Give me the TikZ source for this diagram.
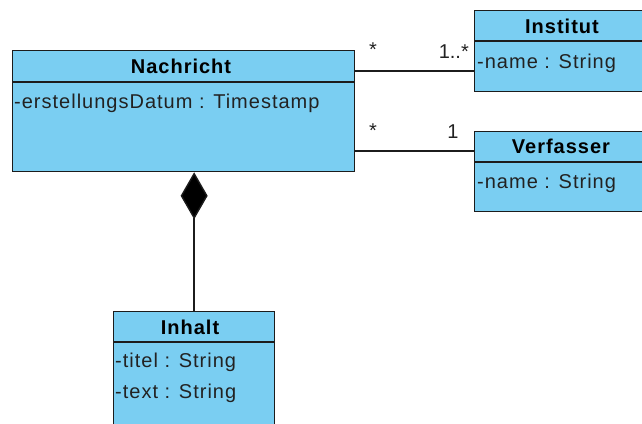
\documentclass[tikz,border=0pt]{standalone}
\usepackage{fontspec}
\setmainfont{Liberation Sans}
\usetikzlibrary{arrows.meta}
\definecolor{classfill}{RGB}{122,206,242}
\definecolor{edgecol}{RGB}{28,28,28}
\definecolor{textcol}{RGB}{34,34,34}
\newcommand{\umlfont}{\fontsize{20}{20}\selectfont\addfontfeature{LetterSpace=5}}
\begin{document}
\begin{tikzpicture}[x=1pt,y=-1pt,
  classbox/.style={draw=edgecol, fill=classfill, line width=1.3pt, rectangle, inner sep=0pt, anchor=north west},
  sepline/.style={draw=edgecol, line width=1.3pt},
  ctitle/.style={font=\umlfont\bfseries, anchor=base, inner sep=0pt, text=black},
  cattr/.style={font=\umlfont, anchor=base west, inner sep=0pt, text=textcol},
  mult/.style={font=\fontsize{20}{20}\selectfont, inner sep=0pt, text=textcol},
  assoc/.style={draw=edgecol, line width=1.4pt}]
\useasboundingbox (0,0) rectangle (642,423);
\clip (0,0) rectangle (642,423);

% class Nachricht
\node[classbox, minimum width=342pt, minimum height=121pt] (nachricht) at (12,50) {};
\draw[sepline] ([yshift=-32pt]nachricht.north west) -- ([yshift=-32pt]nachricht.north east);
\node[ctitle] (nachricht-title) at (181,73) {Nachricht};
\node[cattr] (nachricht-a1) at (14,108) {-erstellungsDatum : Timestamp};

% class Institut
\node[classbox, minimum width=177pt, minimum height=81pt] (institut) at (474,10) {};
\draw[sepline] ([yshift=-31pt]institut.north west) -- ([yshift=-31pt]institut.north east);
\node[ctitle] (institut-title) at (562,33) {Institut};
\node[cattr] (institut-a1) at (477,68) {-name : String};

% class Verfasser
\node[classbox, minimum width=177pt, minimum height=80pt] (verfasser) at (474,131) {};
\draw[sepline] ([yshift=-31pt]verfasser.north west) -- ([yshift=-31pt]verfasser.north east);
\node[ctitle] (verfasser-title) at (561,153) {Verfasser};
\node[cattr] (verfasser-a1) at (477,188) {-name : String};

% class Inhalt
\node[classbox, minimum width=161pt, minimum height=140pt] (inhalt) at (113,311) {};
\draw[sepline] ([yshift=-31pt]inhalt.north west) -- ([yshift=-31pt]inhalt.north east);
\node[ctitle] (inhalt-title) at (190,334) {Inhalt};
\node[cattr] (inhalt-a1) at (115,367) {-titel : String};
\node[cattr] (inhalt-a2) at (115,398) {-text : String};

% associations
\coordinate (inst-end) at ([yshift=-61pt]institut.north west);
\coordinate (verf-end) at ([yshift=-20pt]verfasser.north west);
\draw[assoc] (nachricht.east |- inst-end) -- (inst-end);
\draw[assoc] (nachricht.east |- verf-end) -- (verf-end);
\node[mult, anchor=base] (m-inst-src) at (373,56) {*};
\node[mult, anchor=base east] (m-inst-dst) at (469,58) {1..*};
\node[mult, anchor=base] (m-verf-src) at (373,137) {*};
\node[mult, anchor=base] (m-verf-dst) at (453,138) {1};

% composition
\draw[assoc, -{Diamond[length=47pt,width=27pt,fill=black]}] (inhalt.north) -- (inhalt.north |- nachricht.south);
\end{tikzpicture}
\end{document}
